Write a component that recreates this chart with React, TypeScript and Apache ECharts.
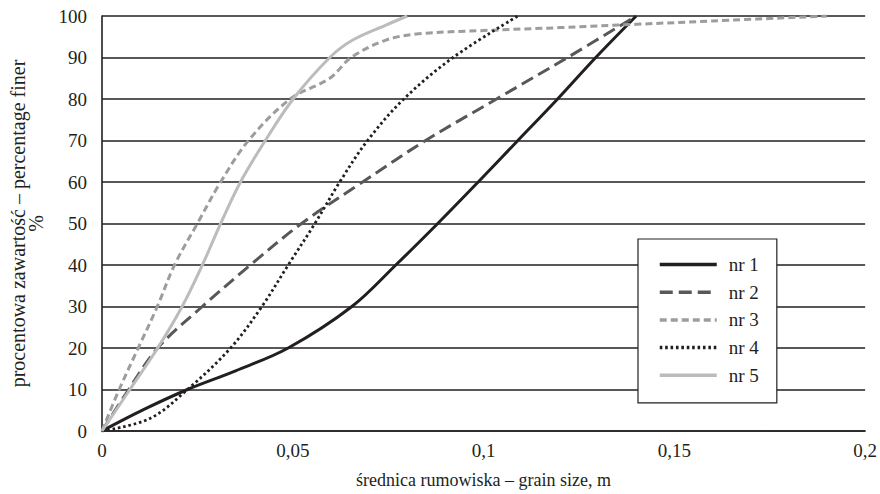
import React, { useEffect, useRef } from "react";
import * as echarts from "echarts";

const seriesNames = ["nr 1", "nr 2", "nr 3", "nr 4", "nr 5"];

const nr1: number[][] = [
  [0, 0], [0.011, 5.2], [0.0224, 10], [0.035, 14.5], [0.0488, 20],
  [0.0655, 30], [0.077, 40], [0.088, 50], [0.0986, 60], [0.109, 70], [0.1194, 80],
  [0.1294, 90], [0.14, 100],
];
const nr2: number[][] = [
  [0, 0], [0.007, 10], [0.0146, 20], [0.0263, 30], [0.0389, 40], [0.0523, 50],
  [0.0683, 60], [0.0848, 70], [0.1034, 80], [0.122, 90], [0.14, 100],
];
const nr3: number[][] = [
  [0, 0], [0.0045, 10], [0.0095, 20], [0.0145, 30], [0.019, 40], [0.025, 50],
  [0.0311, 60], [0.0384, 70], [0.0493, 80], [0.0597, 85],
  [0.0653, 90], [0.0744, 94.2], [0.083, 95.7], [0.1, 96.5],
  [0.12, 97.2], [0.14, 98], [0.16, 98.8], [0.19, 100],
];
const nr4: number[][] = [
  [0, 0], [0.0125, 3], [0.0224, 10], [0.0337, 20], [0.0419, 30], [0.0488, 40],
  [0.0558, 50], [0.0623, 60], [0.0696, 70], [0.0791, 80], [0.092, 90], [0.109, 100],
];
const nr5: number[][] = [
  [0, 0], [0.0073, 10], [0.0146, 20], [0.021, 30], [0.0263, 40], [0.0311, 50],
  [0.0363, 60], [0.0428, 70], [0.0501, 80], [0.0597, 90], [0.0657, 94.2],
  [0.0744, 97.8], [0.08, 100],
];

const xTitle = "średnica rumowiska – grain size, m";
const yTitle = "procentowa zawartość – percentage finer\n%";

const FONT = "Liberation Serif";
const INK = "#231f20";

export default function App() {
  const ref = useRef<HTMLDivElement>(null);
  useEffect(() => {
    document.body.style.margin = "0";
    if (!ref.current) return;
    const chart = echarts.init(ref.current, undefined, { renderer: "svg" });
    const styles = [
      { color: "#231f20", width: 3, type: "solid" as any },
      { color: "#58585a", width: 3, type: [13, 6] as any },
      { color: "#9d9d9f", width: 3, type: [7, 4] as any },
      { color: "#231f20", width: 2.8, type: [2.6, 2.8] as any },
      { color: "#bcbcbe", width: 3, type: "solid" as any },
    ];
    const datasets = [nr1, nr2, nr3, nr4, nr5];
    chart.setOption({
      animation: false,
      backgroundColor: "#ffffff",
      textStyle: { fontFamily: FONT, color: INK },
      grid: { left: 97, right: 13, top: 16, bottom: 62, containLabel: false },
      legend: {
        orient: "vertical",
        left: 638,
        top: 239,
        data: seriesNames,
        backgroundColor: "#ffffff",
        borderColor: INK,
        borderWidth: 1.2,
        padding: [16, 18, 18, 20],
        itemWidth: 57,
        itemHeight: 14,
        itemGap: 8.7,
        itemStyle: { opacity: 0, borderWidth: 0 },
        lineStyle: { width: 3.5 },
        textStyle: { fontFamily: FONT, fontSize: 19, color: INK, padding: [0, 0, 0, 7] },
      },
      xAxis: {
        type: "value",
        min: 0,
        max: 0.2,
        interval: 0.05,
        name: xTitle,
        nameLocation: "middle",
        nameGap: 40,
        nameTextStyle: { fontFamily: FONT, fontSize: 18, color: INK },
        axisLine: { show: true, lineStyle: { color: INK, width: 1.6 } },
        axisTick: { show: false },
        splitLine: { show: false },
        axisLabel: {
          fontFamily: FONT,
          fontSize: 19,
          color: INK,
          margin: 10,
          formatter: (v: number) => String(parseFloat(v.toFixed(4))).replace(".", ","),
        },
      },
      yAxis: {
        type: "value",
        min: 0,
        max: 100,
        interval: 10,
        name: yTitle,
        nameLocation: "middle",
        nameRotate: 90,
        nameGap: 57,
        nameTextStyle: { fontFamily: FONT, fontSize: 20, color: INK, lineHeight: 18 },
        axisLine: { show: true, lineStyle: { color: INK, width: 1.6 } },
        axisTick: { show: false },
        splitLine: { show: true, lineStyle: { color: INK, width: 1.5 } },
        axisLabel: { fontFamily: FONT, fontSize: 19, color: INK, margin: 15 },
      },
      series: seriesNames.map((name, i) => ({
        name,
        type: "line",
        data: datasets[i],
        smooth: 0.35,
        symbol: "none",
        showSymbol: false,
        color: styles[i].color,
        lineStyle: { color: styles[i].color, width: styles[i].width, type: styles[i].type },
        z: 2 + i,
      })),
    });
    return () => chart.dispose();
  }, []);
  return <div ref={ref} style={{ width: 880, height: 494 }} />;
}
